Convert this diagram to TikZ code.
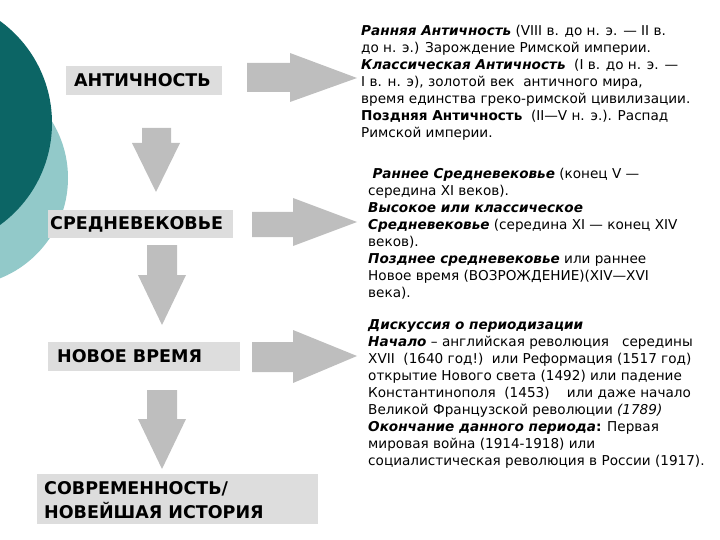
\documentclass[tikz,border=0pt]{standalone}
\usepackage{fontspec}
\setmainfont{DejaVu Sans}
\definecolor{tealdark}{RGB}{12,101,101}
\definecolor{teallight}{RGB}{146,201,201}
\definecolor{boxgray}{RGB}{221,221,221}
\definecolor{arrowgray}{RGB}{190,190,190}
\tikzset{
  era/.style={anchor=west, inner sep=0pt, font=\bfseries\fontsize{17.5}{24}\selectfont, align=left},
  bodytext/.style={anchor=north west, inner sep=0pt, align=left, font=\fontsize{13.6}{17}\selectfont},
  blockarrow/.style={fill=arrowgray}
}
\begin{document}
\begin{tikzpicture}[x=1pt,y=-1pt]
\useasboundingbox (0,0) rectangle (720,540);
% circles
\fill[teallight] (-40,178) circle[radius=108];
\fill[tealdark] (-74,123) circle[radius=126];
% boxes
\fill[boxgray] (66,66) rectangle (222,95);
\node[era] (ant) at (74,80.5) {АНТИЧНОСТЬ};
\fill[boxgray] (48,210) rectangle (233,238);
\node[era] (med) at (50,224) {СРЕДНЕВЕКОВЬЕ};
\fill[boxgray] (48,342) rectangle (240,371);
\node[era] (new) at (57,356.5) {НОВОЕ ВРЕМЯ};
\fill[boxgray] (37,474) rectangle (318,524);
\node[era, anchor=north west] (mod) at (44,481) {СОВРЕМЕННОСТЬ/\\НОВЕЙШАЯ ИСТОРИЯ};
% right arrows
\fill[blockarrow] (247,63) -- (290,63) -- (290,53) -- (357,78) -- (290,102) -- (290,92) -- (247,92) -- cycle;
\fill[blockarrow] (252,212) -- (293,212) -- (293,198) -- (357,222) -- (293,246) -- (293,237) -- (252,237) -- cycle;
\fill[blockarrow] (252,342) -- (293,342) -- (293,330) -- (357,356) -- (293,383) -- (293,372) -- (252,372) -- cycle;
% down arrows
\fill[blockarrow] (142,128) -- (171,128) -- (171,143) -- (180,143) -- (156,192) -- (132,143) -- (142,143) -- cycle;
\fill[blockarrow] (147,245) -- (177,245) -- (177,275) -- (186,275) -- (162,325) -- (138,275) -- (147,275) -- cycle;
\fill[blockarrow] (147,390) -- (177,390) -- (177,419) -- (186,419) -- (162,469) -- (138,419) -- (147,419) -- cycle;
% texts
\node[bodytext] (t1) at (361,24.5) {\textbf{\textit{Ранняя Античность}} (VIII в. до н. э. — II в.\\
до н. э.) Зарождение Римской империи.\\
\textbf{\textit{Классическая Античность}}\ \ (I в. до н. э. —\\
I в. н. э), золотой век\ \ античного мира,\\
время единства греко-римской цивилизации.\\
\textbf{Поздняя Античность}\ \ (II—V н. э.). Распад\\
Римской империи.};
\node[bodytext] (t2) at (368,167.5) {\ \textbf{\textit{Раннее Средневековье}} (конец V —\\
середина XI веков).\\
\textbf{\textit{Высокое или классическое}}\\
\textbf{\textit{Средневековье}} (середина XI — конец XIV\\
веков).\\
\textbf{\textit{Позднее средневековье}} или раннее\\
Новое время (ВОЗРОЖДЕНИЕ)(XIV—XVI\\
века).};
\node[bodytext] (t3) at (368,319.5) {\textbf{\textit{Дискуссия о периодизации}}\\
\textbf{\textit{Начало}} – английская революция\ \ \ середины\\
XVII\ \ (1640 год!)\ \ или Реформация (1517 год)\\
открытие Нового света (1492) или падение\\
Константинополя\ \ (1453)\ \ \ \ или даже начало\\
Великой Французской революции \textit{(1789)}\\
\textbf{\textit{Окончание данного периода}}\textbf{:} Первая\\
мировая война (1914-1918) или\\
социалистическая революция в России (1917).};
\end{tikzpicture}
\end{document}
